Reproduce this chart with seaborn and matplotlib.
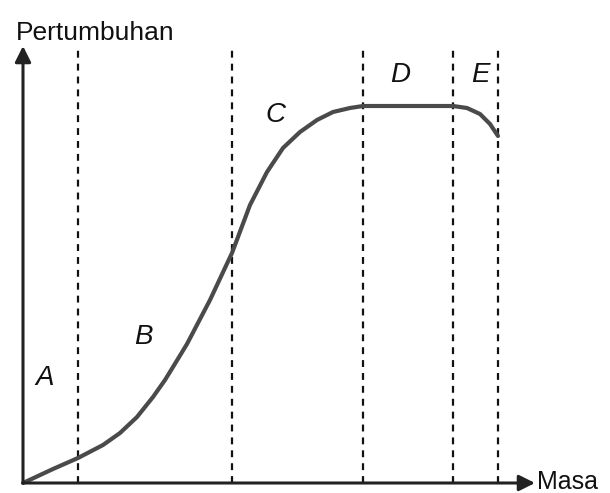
import matplotlib
matplotlib.use("Agg")
import matplotlib.pyplot as plt
import seaborn as sns

# growth curve (time, growth)
masa = [0, 15, 30, 55, 80, 97, 114, 130, 142, 150, 164, 187, 209, 227, 244,
        260, 277, 294, 310, 327, 340, 430, 444, 457, 467, 475]
pertumbuhan = [0, 7, 14, 25, 38, 50, 66, 86, 103, 116, 139, 183, 230, 278, 311,
               335, 351, 363, 371, 375, 377, 377, 375, 369, 359, 347]

# phase boundaries and phase labels
sempadan = [55, 209, 340, 430, 475]
fasa = ["A", "B", "C", "D", "E"]
fasa_x = [22, 120, 252, 377, 457]
fasa_y = [105, 146, 368, 408, 408]

sns.set_theme(style="white")
plt.rcParams["font.family"] = ["Liberation Sans", "DejaVu Sans"]

fig = plt.figure(figsize=(6.10, 4.93), dpi=100)
ax = fig.add_axes([0, 0, 1, 1])
ax.set_xlim(-23, 587)
ax.set_ylim(-10, 483)
ax.axis("off")

ax.vlines(sempadan, 0, 433, colors="#111111", linewidth=1.6,
          linestyles=(0, (3.1, 2.7)), zorder=1)

sns.lineplot(x=masa, y=pertumbuhan, ax=ax, color="#4a4a4a",
             linewidth=3.0, zorder=3)

arrow = dict(arrowstyle="-|>", mutation_scale=24, lw=2.2, color="#222222",
             shrinkA=0, shrinkB=0)
ax.annotate("", xy=(512, 0), xytext=(0, 0), arrowprops=arrow, zorder=4)
ax.annotate("", xy=(0, 437), xytext=(0, 0), arrowprops=arrow, zorder=4)

ax.text(-7, 450, "Pertumbuhan", fontsize=19, ha="left", va="center", color="#111111")
ax.text(514, 1, "Masa", fontsize=18, ha="left", va="center", color="#111111")

for lbl, x, y in zip(fasa, fasa_x, fasa_y):
    ax.text(x, y, lbl, fontsize=20, style="italic", ha="center", va="center",
            color="#111111")

fig.savefig("out.png", dpi=100, facecolor="white")
